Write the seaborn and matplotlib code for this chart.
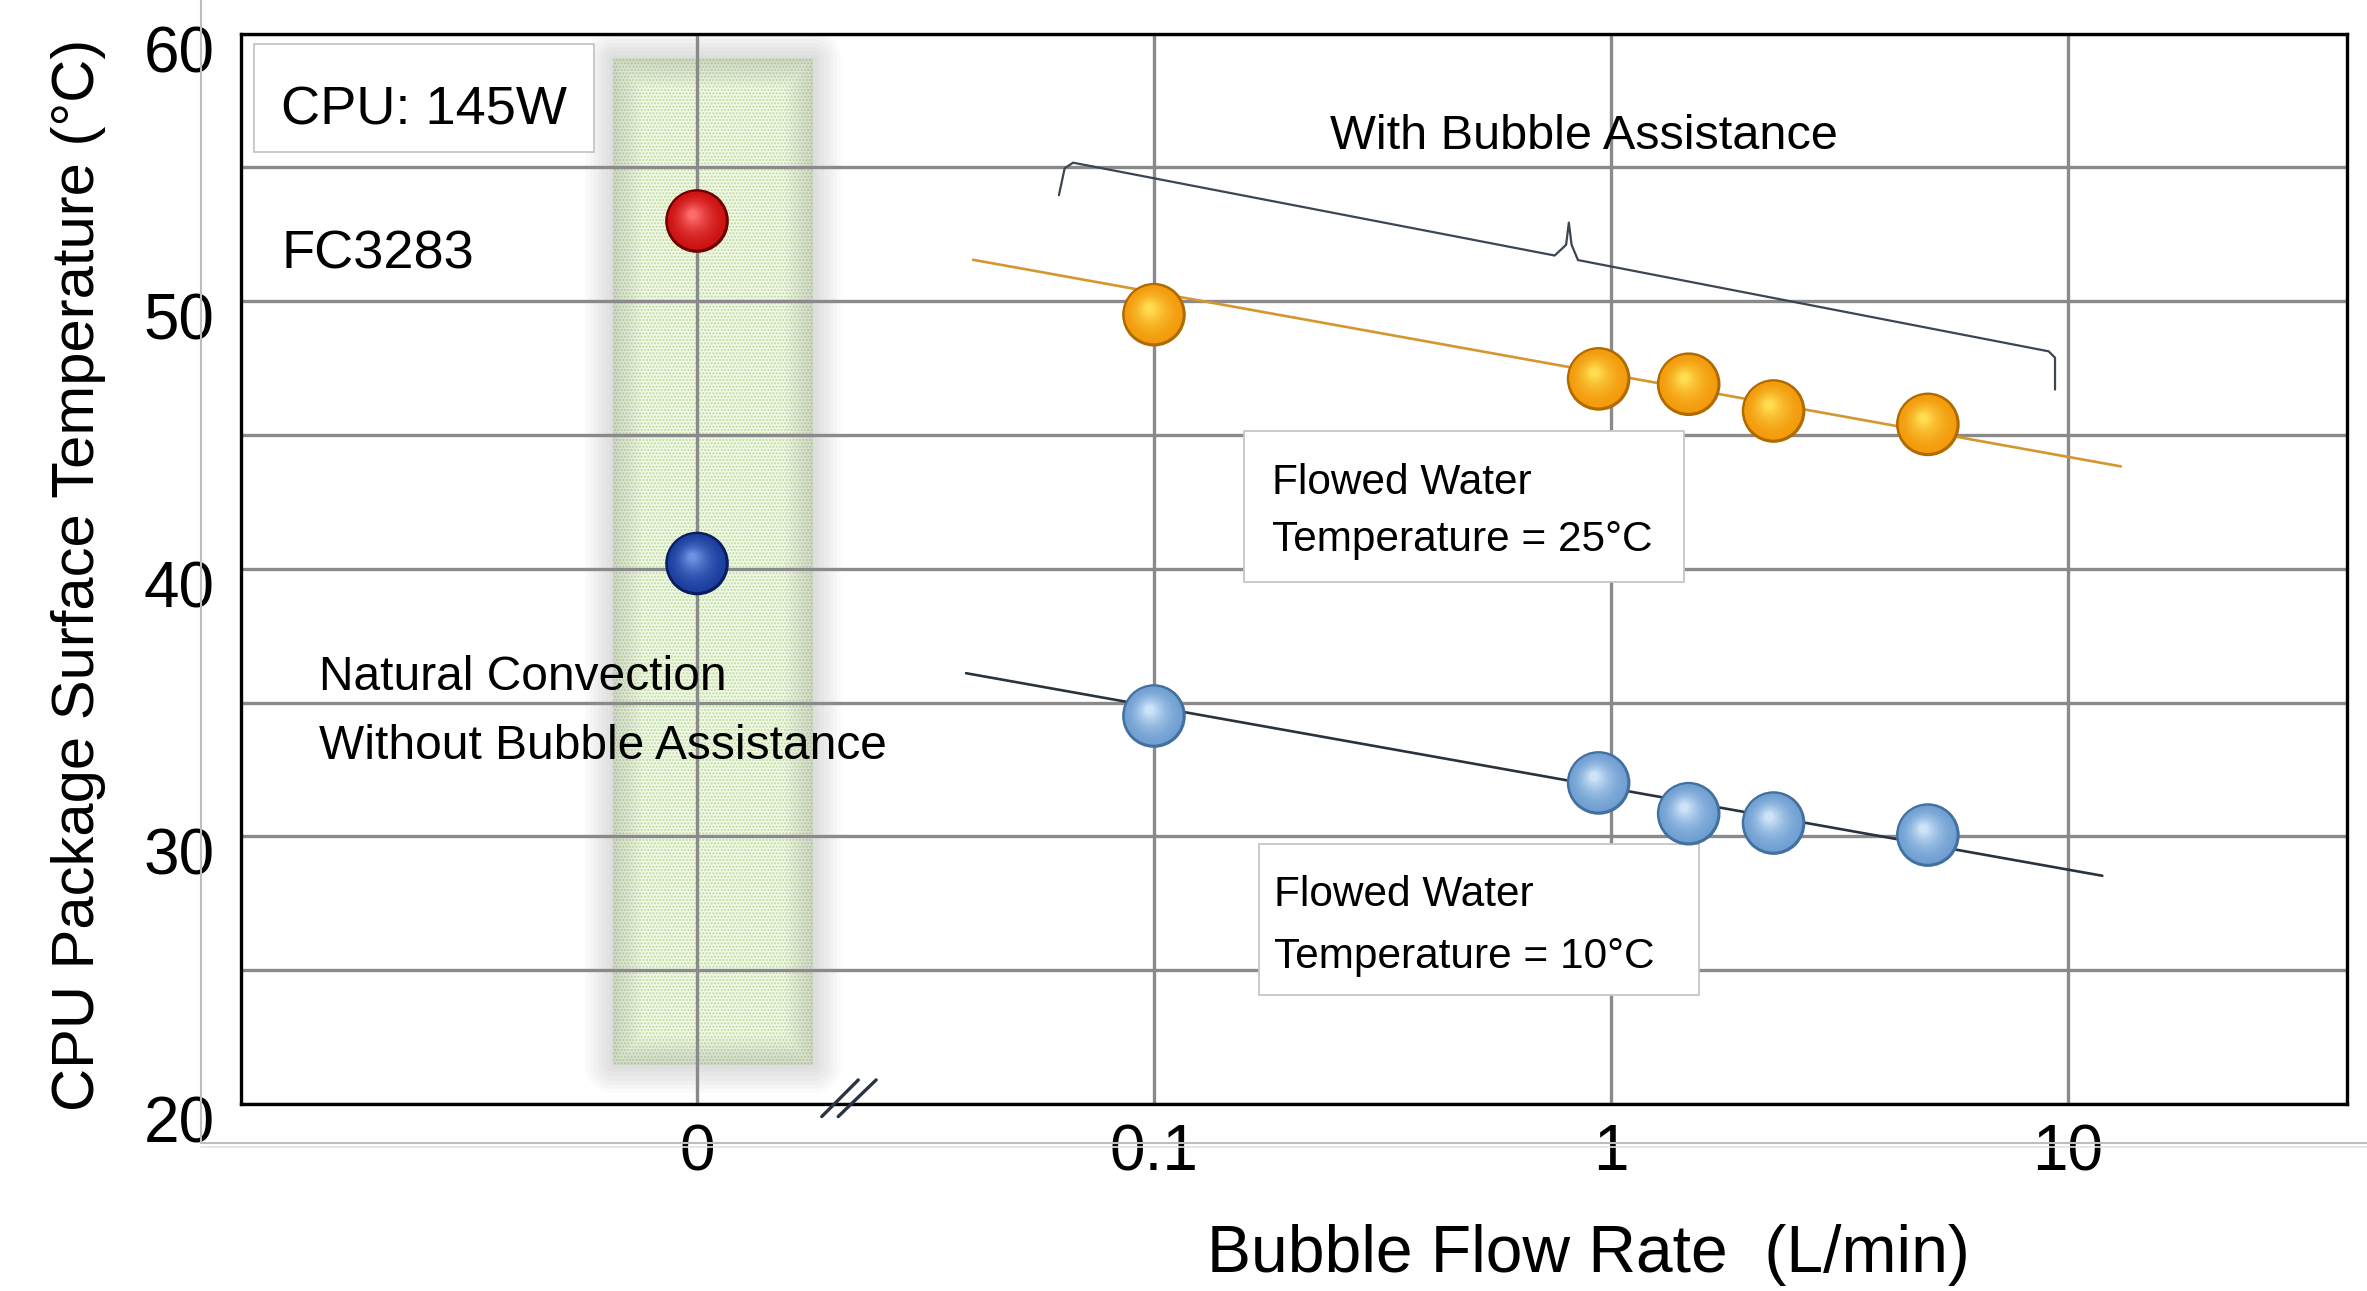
import numpy as np
import pandas as pd
import matplotlib
matplotlib.use("Agg")
from matplotlib import pyplot as plt
from matplotlib import patheffects as pe
from matplotlib.patches import Rectangle
from matplotlib.lines import Line2D
from matplotlib.transforms import ScaledTranslation
from matplotlib.colors import to_rgb
import seaborn as sns

# ---- values ----
flow_rate = [0.1, 0.94, 1.48, 2.27, 4.94]              # L/min
temp_water25 = [49.5, 47.1, 46.9, 45.9, 45.4]          # degC, flowed water 25C
temp_water10 = [34.5, 32.0, 30.85, 30.5, 30.05]        # degC, flowed water 10C
natural_temp = [53.0, 40.2]                            # no bubbles (25C, 10C water)
fit_rate_25 = [0.0402, 13.06]
fit_temp_25 = [51.55, 43.83]
fit_rate_10 = [0.0388, 11.9]
fit_temp_10 = [36.1, 28.53]
tick_rates = [0, 0.1, 1, 10]
tick_labels = ["0", "0.1", "1", "10"]
y_ticks = [20, 30, 40, 50, 60]

FONT = ["Liberation Sans", "DejaVu Sans"]


def xpos(rates):
    # broken axis: "0" sits one decade left of 0.1
    return [0.0 if r == 0 else np.log10(r) + 2 for r in rates]


def mix(c1, c2, t):
    a, b = np.array(to_rgb(c1)), np.array(to_rgb(c2))
    return tuple(a + (b - a) * t)


def spheres(ax, df, dark, base, light, size=2100, n=16):
    # fake 3D balls: dark rim, then lighter discs shifted to the upper left
    sns.scatterplot(data=df, x="pos", y="temp", s=size, color=dark,
                    edgecolor="none", legend=False, zorder=4, ax=ax)
    d = np.sqrt(size)
    for i in range(1, n + 1):
        t = i / n
        sz = size * (1 - 0.86 * t) ** 2 * (0.93 if i == 1 else 1)
        col = mix(base, light, t ** 1.8)
        sns.scatterplot(data=df, x="pos", y="temp", s=sz, color=col,
                        edgecolor="none", legend=False, zorder=4 + t, ax=ax)
        coll = ax.collections[-1]
        dx, dy = -0.07 * d * t, 0.10 * d * t
        coll.set_offset_transform(ax.transData + ScaledTranslation(dx / 72, dy / 72, fig.dpi_scale_trans))


sns.set_style("white")
plt.rcParams["font.family"] = FONT
plt.rcParams["text.color"] = "black"
plt.rcParams["axes.labelcolor"] = "black"
plt.rcParams["xtick.color"] = "black"
plt.rcParams["ytick.color"] = "black"

fig = plt.figure(figsize=(23.67, 12.91), dpi=100)
ax = fig.add_axes([241 / 2367, 1 - 1104 / 1291, 2106 / 2367, 1070.3 / 1291])

# shaded "natural convection" column with soft shadow
band = Rectangle((-0.184, 21.47), 0.438, 37.63, fc="#f1f8e8", ec="#bcdc9a",
                 hatch=".....", lw=0, zorder=0.3)
ax.add_patch(band)
shadow = Rectangle((-0.184, 21.47), 0.438, 37.63, fill=False, ec="#777777", lw=0, zorder=0.32)
shadow.set_path_effects([pe.Stroke(linewidth=w, foreground="#777777", alpha=0.035, joinstyle="round")
                         for w in (40, 34, 28, 22, 16, 10, 5)])
ax.add_patch(shadow)

# fitted trend lines
sns.lineplot(x=xpos(fit_rate_25), y=fit_temp_25, color="#d6962f", lw=1.9, zorder=2, ax=ax)
sns.lineplot(x=xpos(fit_rate_10), y=fit_temp_10, color="#29333d", lw=1.9, zorder=2, ax=ax)

df25 = pd.DataFrame({"pos": xpos(flow_rate), "temp": temp_water25})
df10 = pd.DataFrame({"pos": xpos(flow_rate), "temp": temp_water10})
dfn25 = pd.DataFrame({"pos": xpos([0]), "temp": natural_temp[:1]})
dfn10 = pd.DataFrame({"pos": xpos([0]), "temp": natural_temp[1:]})
spheres(ax, df25, "#b06a00", "#f29a0c", "#ffdc50")
spheres(ax, df10, "#43709f", "#6f9fd2", "#cde3f8")
spheres(ax, dfn25, "#6e0000", "#cc1212", "#ff6a6a")
spheres(ax, dfn10, "#0a1d5c", "#1b3d9e", "#6a90e0")

# axes, grid, ticks
ax.set_xlim(-0.998, 3.611)
ax.set_ylim(20, 60)
ax.set_xticks(xpos(tick_rates))
ax.set_xticklabels(tick_labels)
ax.set_yticks(y_ticks)
ax.set_yticks([25, 35, 45, 55], minor=True)
ax.set_axisbelow(True)
ax.grid(True, which="both", color="#8a8a8a", lw=2.4)
ax.tick_params(which="both", length=0)
ax.tick_params(axis="x", labelsize=46, pad=14)
ax.tick_params(axis="y", labelsize=46, pad=19)
for lab in ax.get_yticklabels():
    lab.set_transform(lab.get_transform() + ScaledTranslation(0, -0.15, fig.dpi_scale_trans))
for sp in ax.spines.values():
    sp.set_color("black")
    sp.set_linewidth(2.4)

ax.set_xlabel("Bubble Flow Rate  (L/min)", fontsize=47.5)
ax.xaxis.label.set_va("baseline")
ax.xaxis.set_label_coords(0.6398, -0.157)
ax.set_ylabel("CPU Package Surface Temperature (°C)", fontsize=43)
ax.yaxis.label.set_va("baseline")
ax.yaxis.set_label_coords(-0.070, 0.494)

# axis break marks
for x0, x1 in [(0.273, 0.353), (0.309, 0.392)]:
    ax.plot([x0, x1], [19.53, 20.90], color="#2a3440", lw=2.4, clip_on=False, zorder=6)

# brace over the bubble-assisted points
brace_u = [0.792, 0.8046, 0.823, 1.877, 1.902, 1.908, 1.914, 1.928, 2.958, 2.972, 2.972]
brace_t = [53.965, 54.97, 55.18, 51.71, 52.11, 52.94, 52.11, 51.54, 48.13, 47.89, 46.70]
ax.plot(brace_u, brace_t, color="#3a4654", lw=1.6, zorder=2)

# annotation boxes
for (u0, u1, t0, t1) in [(-0.969, -0.225, 55.58, 59.62),
                         (1.198, 2.160, 39.52, 45.17),
                         (1.230, 2.193, 24.07, 29.73)]:
    ax.add_patch(Rectangle((u0, t0), u1 - u0, t1 - t0, fc="white", ec="#c6c6c6", lw=1.3, zorder=3))

ax.text(-0.910, 56.61, "CPU: 145W", fontsize=39, va="baseline", zorder=8)
ax.text(-0.910, 51.24, "FC3283", fontsize=39, va="baseline", zorder=8)
ax.text(1.386, 55.68, "With Bubble Assistance", fontsize=35, va="baseline", zorder=8)
ax.text(-0.827, 35.46, "Natural Convection", fontsize=34.5, va="baseline", zorder=8)
ax.text(-0.827, 32.91, "Without Bubble Assistance", fontsize=34.5, va="baseline", zorder=8)
ax.text(1.259, 42.81, "Flowed Water", fontsize=30.5, va="baseline", zorder=8)
ax.text(1.259, 40.67, "Temperature = 25°C", fontsize=30.5, va="baseline", zorder=8)
ax.text(1.263, 27.39, "Flowed Water", fontsize=30.5, va="baseline", zorder=8)
ax.text(1.263, 25.09, "Temperature = 10°C", fontsize=30.5, va="baseline", zorder=8)

# thin grey frame lines outside the plot
yb = 1 - 1143 / 1291
fig.add_artist(Line2D([201 / 2367, 201 / 2367], [1, yb], color="#bdbdbd", lw=1.5, transform=fig.transFigure))
fig.add_artist(Line2D([201 / 2367, 1], [yb, yb], color="#bdbdbd", lw=1.5, transform=fig.transFigure))
fig.add_artist(Line2D([201 / 2367, 1], [yb - 4 / 1291] * 2, color="#e2e2e2", lw=1.2, transform=fig.transFigure))

fig.savefig("out.png", dpi=100)
plt.close(fig)
